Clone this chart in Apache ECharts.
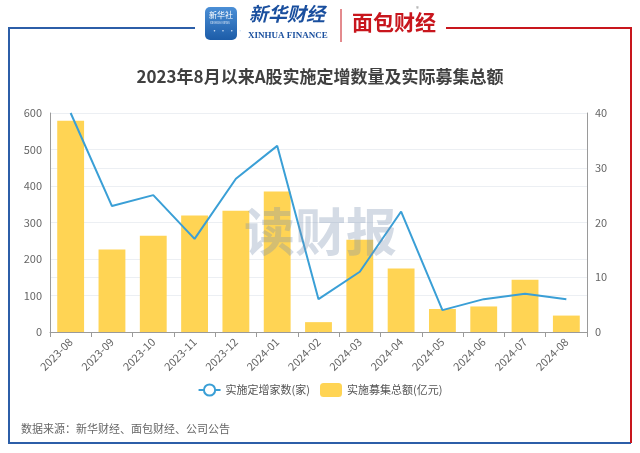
<!DOCTYPE html>
<html>
<head>
<meta charset="utf-8">
<script src="https://cdn.jsdelivr.net/npm/echarts@6/dist/echarts.min.js"></script>
<style>
  html, body { margin: 0; padding: 0; background: #fff; }
  #chart { width: 640px; height: 453px; }
</style>
</head>
<body>
<div id="chart"></div>
<script>
// months on the category axis
const months = [
  "2023-08", "2023-09", "2023-10", "2023-11", "2023-12", "2024-01", "2024-02",
  "2024-03", "2024-04", "2024-05", "2024-06", "2024-07", "2024-08"
];
// number of companies completing private placements (right axis)
const placementCount = [40, 23, 25, 17, 28, 34, 6, 11, 22, 4, 6, 7, 6];
// total money raised, 100M yuan (left axis)
const raisedAmount = [579, 226, 264, 319, 332, 385, 27, 253, 174, 63, 70, 143, 45];

const FONT = '"Noto Sans CJK SC", "Noto Sans", sans-serif';
const BLUE = "#2c5ea8";
const RED = "#c8161d";

const chart = echarts.init(document.getElementById("chart"));

chart.setOption({
  backgroundColor: "#fff",
  textStyle: { fontFamily: FONT },
  title: {
    text: "2023年8月以来A股实施定增数量及实际募集总额",
    left: "center",
    top: 63,
    textStyle: { fontSize: 17, fontWeight: "bold", color: "#404040", fontFamily: FONT }
  },
  legend: {
    bottom: 51,
    left: "center",
    itemWidth: 22,
    itemHeight: 14,
    itemGap: 10,
    textStyle: { fontSize: 11, color: "#555" },
    data: ["实施定增家数(家)", { name: "实施募集总额(亿元)", itemStyle: { borderRadius: 0 } }]
  },
  grid: { left: 50, right: 53, top: 113, bottom: 121, containLabel: false },
  xAxis: {
    type: "category",
    data: months,
    axisLine: { lineStyle: { color: "#9a9a9a" } },
    axisTick: { show: true, lineStyle: { color: "#9a9a9a" } },
    axisLabel: { rotate: 45, fontSize: 11, color: "#666", margin: 8 }
  },
  yAxis: [
    {
      type: "value",
      min: 0, max: 600, interval: 100,
      axisLine: { show: true, lineStyle: { color: "#9a9a9a" } },
      axisTick: { show: false },
      axisLabel: { fontSize: 11, color: "#666" },
      splitLine: { lineStyle: { color: "#eceff3" } }
    },
    {
      type: "value",
      min: 0, max: 40, interval: 10,
      axisLine: { show: true, lineStyle: { color: "#9a9a9a" } },
      axisTick: { show: false },
      axisLabel: { fontSize: 11, color: "#666" },
      splitLine: { lineStyle: { color: "#eceff3" } }
    }
  ],
  series: [
    {
      name: "实施募集总额(亿元)",
      type: "bar",
      yAxisIndex: 0,
      barWidth: "65%",
      itemStyle: { color: "#ffd454" },
      data: raisedAmount
    },
    {
      name: "实施定增家数(家)",
      type: "line",
      yAxisIndex: 1,
      symbol: "emptyCircle",
      symbolSize: 8,
      showSymbol: false,
      lineStyle: { width: 2, color: "#3a9fd6" },
      itemStyle: { color: "#3a9fd6" },
      data: placementCount
    }
  ],
  graphic: [
    // frame: blue on the left and bottom, red on the right
    { type: "polyline", shape: { points: [[195, 28], [9, 28], [9, 443], [631, 443]] },
      style: { stroke: BLUE, lineWidth: 2, fill: null } },
    { type: "polyline", shape: { points: [[446, 28], [631, 28], [631, 443]] },
      style: { stroke: RED, lineWidth: 2, fill: null } },
    // Xinhua icon
    { type: "rect", shape: { x: 205, y: 7, width: 32, height: 33, r: 5 },
      style: { fill: new echarts.graphic.LinearGradient(0, 0, 0, 1, [
        { offset: 0, color: "#4b8fd6" }, { offset: 1, color: "#1c5ca8" }]) } },
    { type: "text", left: 209, top: 11,
      style: { text: "新华社", fontSize: 8, fill: "#fff", fontFamily: FONT } },
    { type: "text", left: 210, top: 21,
      style: { text: "XINHUA NEWS", fontSize: 3, fill: "#dbe8f7", fontFamily: FONT } },
    { type: "text", left: 211, top: 27,
      style: { text: "· · · ·", fontSize: 7, fill: "#cfe2f7", fontFamily: FONT } },
    // Xinhua Finance wordmark
    { type: "text", left: 249, top: 4,
      style: { text: "新华财经", fontSize: 19, fontWeight: "bold", fontStyle: "italic",
        fill: "#1a4f9e", fontFamily: FONT } },
    { type: "text", left: 248, top: 31,
      style: { text: "XINHUA FINANCE", fontSize: 9, fontWeight: "bold",
        fill: "#1a4f9e", fontFamily: '"Liberation Serif", serif' } },
    { type: "line", shape: { x1: 341, y1: 9, x2: 341, y2: 42 },
      style: { stroke: RED, lineWidth: 1 } },
    // Mianbao Caijing wordmark
    { type: "text", left: 352, top: 12,
      style: { text: "面包财经", fontSize: 21, fontWeight: "bold", fill: RED, fontFamily: FONT } },
    { type: "text", left: 416, top: 6,
      style: { text: "®", fontSize: 6, fill: "#888", fontFamily: FONT } },
    // watermark
    { type: "text", left: 244, top: 206, z: 100,
      style: { text: "读财报", fontSize: 51, fontWeight: "bold",
        fill: "rgba(125,145,175,0.33)", fontFamily: FONT } },
    // source note
    { type: "text", left: 21, top: 423,
      style: { text: "数据来源：新华财经、面包财经、公司公告", fontSize: 11, fill: "#666", fontFamily: FONT } }
  ]
});
</script>
</body>
</html>
